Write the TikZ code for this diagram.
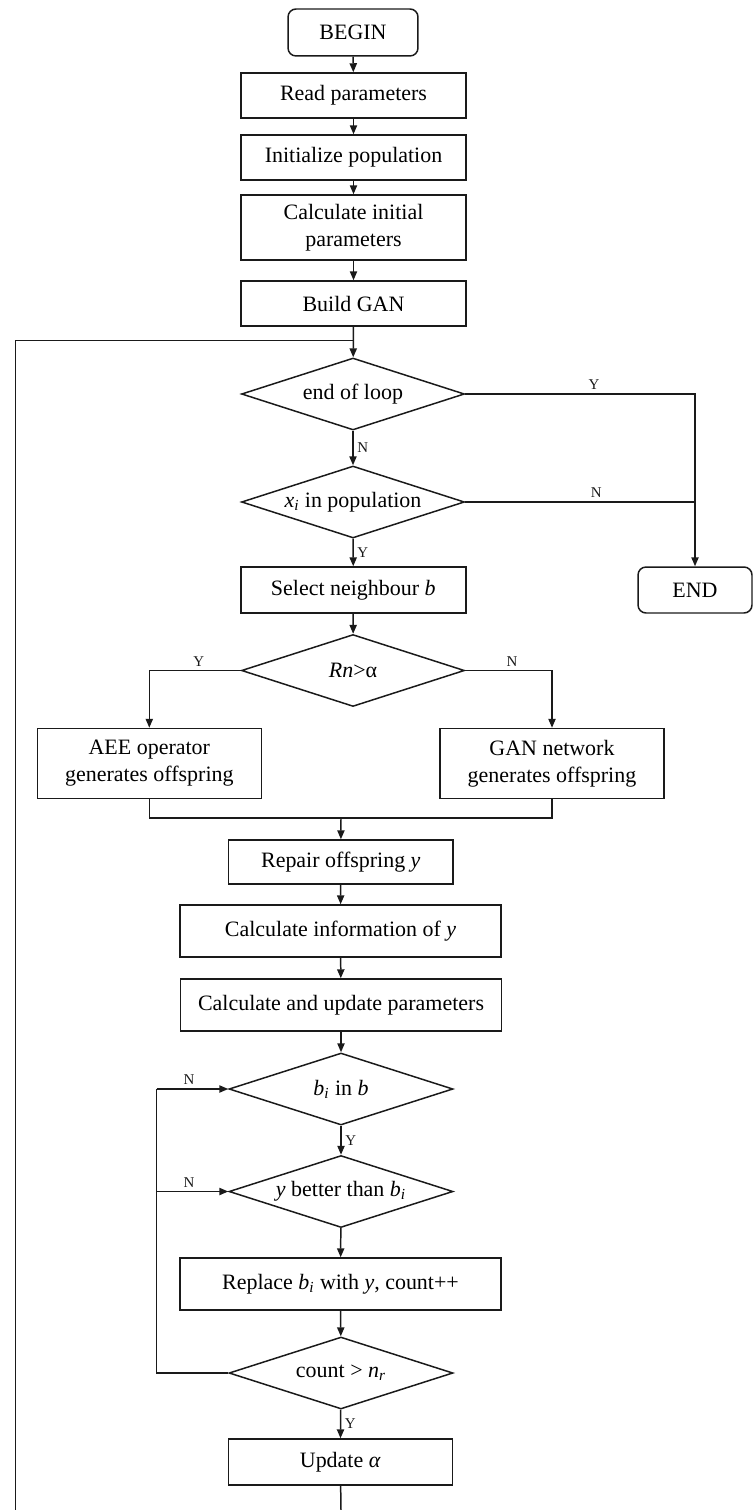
\documentclass[tikz,border=0pt]{standalone}
\usepackage{fontspec}
\setmainfont{Liberation Serif}
\usetikzlibrary{arrows.meta,shapes.geometric}
\definecolor{ink}{HTML}{1A1A1A}
\newcommand{\mainsz}{\fontsize{12.5}{15.3}\selectfont}
\newcommand{\sub}[2]{\textit{#1}\textsubscript{\textit{#2}}}
\tikzset{
  >={Triangle[length=1.8mm,width=1.45mm]},
  box/.style={draw=ink,line width=.85pt,align=center,inner sep=1pt,minimum width=4.5cm,minimum height=.9cm,font=\mainsz},
  term/.style={box,rounded corners=1.6mm},
  decide/.style={diamond,draw=ink,line width=.85pt,inner sep=0pt,aspect=3,minimum width=4.46cm,minimum height=1.44cm,font=\mainsz},
  flow/.style={->,line width=.85pt,color=ink},
  wire/.style={line width=.85pt,color=ink},
  yn/.style={font=\fontsize{8.5}{9}\selectfont,inner sep=2pt},
}

\begin{document}
\begin{tikzpicture}[x=0.02cm,y=-0.02cm]
  \useasboundingbox (0,0) rectangle (756,1510);

  \node[term,minimum width=2.6cm,minimum height=.94cm] (begin) at (353,32.5) {BEGIN};
  \node[box] (read) at (353.5,95.5) {Read parameters};
  \node[box] (init) at (353.5,157.5) {Initialize population};
  \node[box,minimum height=1.3cm] (calc) at (353.5,227.5) {Calculate initial\\parameters};
  \node[box] (gan) at (353.5,303.5) {Build GAN};
  \node[decide] (loopend) at (353,394) {end of loop};
  \node[decide] (inpop) at (353,502) {\sub{x}{i} in population};
  \node[box,minimum height=.92cm] (select) at (353.3,590) {Select neighbour \textit{b}};
  \node[term,minimum width=2.28cm,minimum height=.92cm] (end) at (695,590) {END};
  \node[decide] (rn) at (353,670.5) {\textit{Rn}>α};
  \node[box,minimum width=4.48cm,minimum height=1.4cm] (aee) at (149.3,763.5) {AEE operator\\generates offspring};
  \node[box,minimum width=4.48cm,minimum height=1.4cm] (gannet) at (552,763.5) {GAN network\\generates offspring};
  \node[box,minimum width=4.49cm,minimum height=.88cm] (repair) at (340.8,862) {Repair offspring \textit{y}};
  \node[box,minimum width=6.42cm,minimum height=1.04cm] (info) at (340.5,931) {Calculate information of \textit{y}};
  \node[box,minimum width=6.42cm,minimum height=1.04cm] (upd) at (341,1005) {Calculate and update parameters};
  \node[decide,minimum width=4.48cm] (bin) at (341,1089) {\sub{b}{i} in \textit{b}};
  \node[decide,minimum width=4.48cm] (better) at (341,1191.5) {\textit{y} better than \sub{b}{i}};
  \node[box,minimum width=6.42cm,minimum height=1.04cm] (replace) at (340.5,1284) {Replace \sub{b}{i} with \textit{y}, count++};
  \node[decide,minimum width=4.48cm] (count) at (341,1373) {count > \sub{n}{r}};
  \node[box,minimum width=4.48cm,minimum height=.92cm] (alpha) at (340.3,1462) {Update \textit{α}};

  \coordinate (loopin) at (353.5,340.7);
  \coordinate (loopbot) at (15.4,1510);
  \coordinate (merge) at (341,818);
  \coordinate (nloop) at (156.7,1373);
  \coordinate (outbot) at (341,1510);

  \draw[flow] (begin) -- (read);
  \draw[flow] (read) -- (init);
  \draw[flow] (init) -- (calc);
  \draw[flow] (calc) -- (gan);
  \draw[flow] (gan) -- (loopend);
  \draw[wire] (loopbot) |- (loopin);
  \draw[flow] (loopend.east) -| (end.north) node[yn,above,pos=.28] {Y};
  \draw[wire] (inpop.east) -- (inpop.east -| end.north) node[yn,above,pos=.57] {N};
  \draw[flow] (loopend) -- (inpop) node[yn,right,midway] {N};
  \draw[flow] (inpop) -- (select) node[yn,right,midway] {Y};
  \draw[flow] (select) -- (rn);
  \draw[flow] (rn.west) -| (aee.north) node[yn,above,pos=.23] {Y};
  \draw[flow] (rn.east) -| (gannet.north) node[yn,above,pos=.27] {N};
  \draw[wire] (aee.south) |- (merge) -| (gannet.south);
  \draw[flow] (merge) -- (repair);
  \draw[flow] (repair) -- (info);
  \draw[flow] (info) -- (upd);
  \draw[flow] (upd) -- (bin);
  \draw[flow] (bin) -- (better) node[yn,right,midway] {Y};
  \draw[flow] (better) -- (replace);
  \draw[flow] (replace) -- (count);
  \draw[wire] (count.west) -- (nloop) -- (nloop |- bin.west);
  \draw[flow] (nloop |- bin.west) -- (bin.west) node[yn,above,pos=.45] {N};
  \draw[flow] (nloop |- better.west) -- (better.west) node[yn,above,pos=.45] {N};
  \draw[flow] (count) -- (alpha) node[yn,right,midway] {Y};
  \draw[wire] (alpha) -- (outbot);
\end{tikzpicture}
\end{document}
